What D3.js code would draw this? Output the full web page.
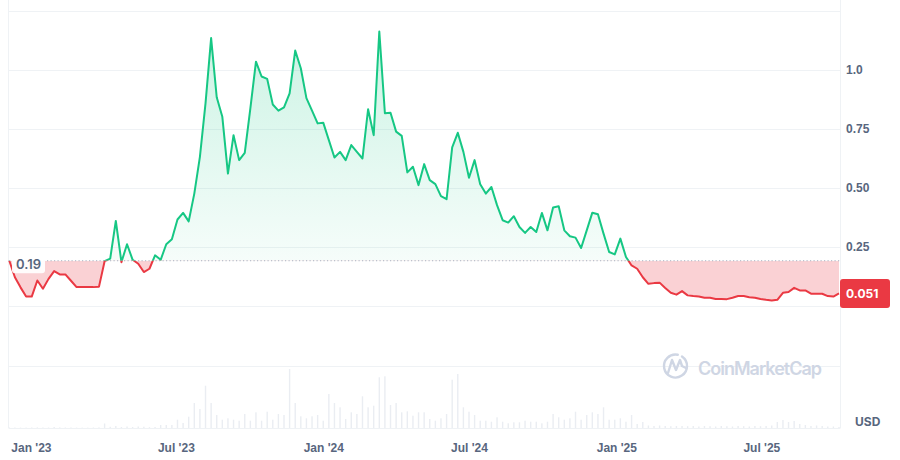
<!DOCTYPE html>
<html>
<head>
<meta charset="utf-8">
<script src="https://cdn.jsdelivr.net/npm/d3@7"></script>
<style>
  body { margin: 0; background: #fff; }
  svg { display: block; font-family: Inter, "Noto Sans", sans-serif; }
  .axis text { fill: #58667e; font-size: 12px; font-weight: 600; }
</style>
</head>
<body>
<svg width="900" height="460"></svg>
<script>
// weekly closes, first week starting 2022-12-05
var firstWeek = "2022-12-05";
var prices = [
  0.19, 0.12, 0.077, 0.038, 0.038, 0.106, 0.071, 0.113, 0.146, 0.132,
  0.132, 0.105, 0.078, 0.078, 0.078, 0.078, 0.08, 0.188, 0.199, 0.359,
  0.184, 0.26, 0.194, 0.177, 0.142, 0.156, 0.213, 0.194, 0.26, 0.281,
  0.365, 0.393, 0.357, 0.475, 0.631, 0.858, 1.135, 0.884, 0.801, 0.56,
  0.723, 0.617, 0.648, 0.837, 1.035, 0.972, 0.962, 0.853, 0.827, 0.841,
  0.9, 1.082, 1.007, 0.88, 0.827, 0.773, 0.776, 0.702, 0.628, 0.652,
  0.617, 0.681, 0.652, 0.624, 0.833, 0.723, 1.163, 0.816, 0.818, 0.738,
  0.72, 0.565, 0.589, 0.511, 0.6, 0.532, 0.515, 0.464, 0.451, 0.671,
  0.733, 0.652, 0.542, 0.617, 0.515, 0.475, 0.503, 0.426, 0.362, 0.352,
  0.379, 0.333, 0.308, 0.333, 0.312, 0.393, 0.319, 0.416, 0.421, 0.319,
  0.294, 0.288, 0.244, 0.319, 0.394, 0.387, 0.305, 0.227, 0.217, 0.284,
  0.206, 0.17, 0.156, 0.12, 0.092, 0.095, 0.097, 0.074, 0.054, 0.046,
  0.061, 0.043, 0.04, 0.038, 0.033, 0.033, 0.028, 0.028, 0.027, 0.033,
  0.04, 0.04, 0.035, 0.033, 0.028, 0.024, 0.021, 0.024, 0.054, 0.057,
  0.075, 0.064, 0.064, 0.05, 0.05, 0.05, 0.04, 0.038, 0.051
];
// relative weekly volume (no scale shown on the chart)
var volumes = [
  0.5, 0.5, 0.4, 0.4, 0.5, 0.6, 0.5, 0.5, 1, 0.6, 0.5, 0.5, 0.4, 0.4, 0.4, 0.5, 0.6, 4.5, 1.2, 2, 1, 1.5, 1, 1.5,
  1.3, 0.8, 1, 3, 3, 3, 8.3, 5, 11.3, 25, 19, 42.3,
  25, 13, 8.3, 9.7, 8.3, 7.3, 14, 7.3, 15.7, 7.3, 16.3, 8.3,
  14, 13, 59, 25, 11.7, 9.7, 11.7, 13, 7.3, 34, 25, 20.7,
  9, 15.7, 14, 31.7, 20.7, 22.3, 50.7, 51.7, 23, 25, 15.7, 16.7,
  12.3, 15.7, 15.7, 9, 7.3, 9.7, 14, 48.3, 54, 20.7, 16.3, 13,
  7.3, 7.3, 6.3, 10.7, 6.3, 4.7, 5.7, 5.7, 7.3, 6.3, 6.3, 4.7,
  6.3, 14, 10.7, 8.3, 9.7, 16.3, 8.3, 13, 15.7, 14, 20.7, 8.3,
  8.3, 9.7, 6.3, 13, 4, 6, 2.5, 2, 2.5, 2, 1.8, 2,
  2, 1.8, 2, 1.5, 2, 1.8, 1.5, 2, 1.8, 1.5, 2, 1.8,
  1.5, 2, 1.8, 2, 2.5, 6, 8, 6, 7, 4, 3, 2,
  2.5, 2, 1.5, 1.5, 1
];
var openPrice = 0.19;
var lastPrice = "0.051";
var xTickDates = ["2023-01-01", "2023-07-01", "2024-01-01", "2024-07-01", "2025-01-01", "2025-07-01"];
var xTickLabels = ["Jan '23", "Jul '23", "Jan '24", "Jul '24", "Jan '25", "Jul '25"];
var yTickValues = [0.25, 0.5, 0.75, 1.0];
var yTickLabels = ["0.25", "0.50", "0.75", "1.0"];
var gridValues = [0, 0.25, 0.5, 0.75, 1.0, 1.25];

var green = "#16c784", red = "#ea3943", gridColor = "#eff2f5";

var svg = d3.select("svg");
var parse = d3.utcParse("%Y-%m-%d");
var start = parse(firstWeek);

var data = prices.map(function (p, i) {
    return { date: d3.utcDay.offset(start, 7 * i), price: p, vol: volumes[i] };
});
//one row per week

var x = d3.scaleUtc()
    .domain(d3.extent(data, function (d) { return d.date; }))
    .range([9.3, 839]);
var y = d3.scaleLinear().domain([0, 1.25]).range([305.5, 11]);
var yVol = d3.scaleLinear().domain([0, 62]).range([428, 366]);
var left = 8.5, right = 840.5;
//scales: price panel on top, volume strip below

var grid = svg.append("g");
grid.selectAll(".hgrid")
    .data(gridValues)
    .enter().append("line")
    .attr("x1", left).attr("x2", right)
    .attr("y1", function (d) { return Math.round(y(d)) + 0.5; })
    .attr("y2", function (d) { return Math.round(y(d)) + 0.5; })
    .attr("stroke", gridColor);
grid.selectAll(".vgrid")
    .data([0, 62])
    .enter().append("line")
    .attr("x1", left).attr("x2", right)
    .attr("y1", function (d) { return Math.round(yVol(d)) + 0.5; })
    .attr("y2", function (d) { return Math.round(yVol(d)) + 0.5; })
    .attr("stroke", gridColor);
grid.selectAll(".edge")
    .data([left, right])
    .enter().append("line")
    .attr("x1", function (d) { return d; }).attr("x2", function (d) { return d; })
    .attr("y1", 0).attr("y2", 428)
    .attr("stroke", gridColor);
//light grid lines and frame

svg.append("g").selectAll("rect")
    .data(data)
    .enter().append("rect")
    .attr("x", function (d) { return x(d.date) - 0.7; })
    .attr("width", 1.4)
    .attr("y", function (d) { return yVol(d.vol); })
    .attr("height", function (d) { return yVol(0) - yVol(d.vol); })
    .attr("fill", "#eaedf2");
//volume bars

// watermark
var wm = svg.append("g").attr("fill", "none").attr("stroke", "#cfd6e4").attr("stroke-width", 2.4)
    .attr("stroke-linecap", "round").attr("stroke-linejoin", "round");
wm.append("path").attr("d", d3.arc()({ innerRadius: 11.5, outerRadius: 11.5, startAngle: 0.6, endAngle: 2 * Math.PI + 0.2 }))
    .attr("transform", "translate(675.5,366)");
wm.append("path").attr("d", "M668,373 L672,360 L676,370 L680,360 L682,366 L686,368");
svg.append("text")
    .attr("x", 698).attr("y", 375)
    .attr("font-size", 18).attr("font-weight", 600)
    .attr("textLength", 124)
    .attr("fill", "#cfd6e4")
    .text("CoinMarketCap");

var by = y(openPrice);
var defs = svg.append("defs");
defs.append("clipPath").attr("id", "above")
    .append("rect").attr("x", 0).attr("y", 0).attr("width", 900).attr("height", by);
defs.append("clipPath").attr("id", "below")
    .append("rect").attr("x", 0).attr("y", by).attr("width", 900).attr("height", 200);
var grad = defs.append("linearGradient").attr("id", "gfill")
    .attr("gradientUnits", "userSpaceOnUse")
    .attr("x1", 0).attr("x2", 0).attr("y1", y(d3.max(prices))).attr("y2", by);
grad.append("stop").attr("offset", "0%").attr("stop-color", green).attr("stop-opacity", 0.22);
grad.append("stop").attr("offset", "100%").attr("stop-color", green).attr("stop-opacity", 0.04);
//split the series at the opening price

var area = d3.area()
    .x(function (d) { return x(d.date); })
    .y0(by)
    .y1(function (d) { return y(d.price); });
var line = d3.line()
    .x(function (d) { return x(d.date); })
    .y(function (d) { return y(d.price); });

svg.append("path").datum(data).attr("d", area)
    .attr("clip-path", "url(#above)").attr("fill", "url(#gfill)");
svg.append("path").datum(data).attr("d", area)
    .attr("clip-path", "url(#below)").attr("fill", red).attr("fill-opacity", 0.23);

svg.append("line")
    .attr("x1", left).attr("x2", right - 1)
    .attr("y1", by).attr("y2", by)
    .attr("stroke", "#a9b1c0").attr("stroke-width", 1)
    .attr("stroke-dasharray", "1.2,2.3");
//dotted reference line

svg.append("path").datum(data).attr("d", line)
    .attr("clip-path", "url(#above)")
    .attr("fill", "none").attr("stroke", green).attr("stroke-width", 2)
    .attr("stroke-linejoin", "round");
svg.append("path").datum(data).attr("d", line)
    .attr("clip-path", "url(#below)")
    .attr("fill", "none").attr("stroke", red).attr("stroke-width", 2)
    .attr("stroke-linejoin", "round");
//price line, green above and red below

svg.append("rect")
    .attr("x", 12).attr("y", by - 4.5).attr("width", 33).attr("height", 17).attr("rx", 3)
    .attr("fill", "#fff").attr("fill-opacity", 0.92);
svg.append("text")
    .attr("x", 16).attr("y", by + 8.5)
    .attr("font-size", 13).attr("font-weight", 600).attr("fill", "#58667e")
    .text(d3.format(".2f")(openPrice));
//opening price tag

svg.append("g")
    .attr("class", "axis")
    .attr("transform", "translate(846,0)")
    .call(d3.axisRight(y).tickValues(yTickValues).tickSize(0).tickPadding(0)
        .tickFormat(function (d, i) { return yTickLabels[i]; }))
    .call(function (g) { g.select(".domain").remove(); });
//price axis on the right

svg.append("g")
    .attr("class", "axis")
    .attr("transform", "translate(0,438)")
    .call(d3.axisBottom(x).tickValues(xTickDates.map(parse)).tickSize(0).tickPadding(5)
        .tickFormat(function (d, i) { return xTickLabels[i]; }))
    .call(function (g) { g.select(".domain").remove(); });
//date axis

svg.append("rect")
    .attr("x", 840).attr("y", y(+lastPrice) - 14.5).attr("width", 50).attr("height", 29).attr("rx", 3)
    .attr("fill", red);
svg.append("text")
    .attr("x", 846).attr("y", y(+lastPrice)).attr("dy", "0.35em")
    .attr("font-size", 12).attr("font-weight", 700).attr("fill", "#fff")
    .text(lastPrice);
//current price tag

svg.append("text")
    .attr("x", 855).attr("y", 426)
    .attr("font-size", 12).attr("font-weight", 700).attr("fill", "#58667e")
    .text("USD");
</script>
</body>
</html>
